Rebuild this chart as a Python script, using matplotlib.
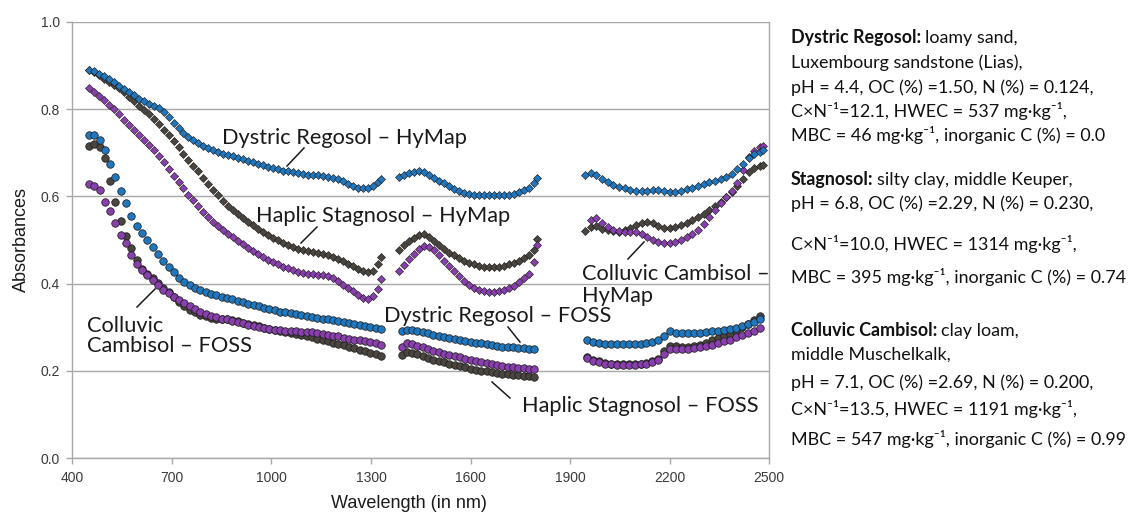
import numpy as np
import matplotlib
matplotlib.use('Agg')
import matplotlib.pyplot as plt
from matplotlib.lines import Line2D

nan = float('nan')

# ---------------- data ----------------
HYMAP_WL = [450, 465, 480, 495, 510, 525, 540, 555, 570, 585, 600, 615, 630, 645, 660, 675, 690, 705, 720, 735,
            750, 765, 780, 795, 810, 825, 840, 855, 870, 885, 900, 915, 930, 945, 960, 975, 990, 1005, 1020, 1035,
            1050, 1065, 1080, 1095, 1110, 1125, 1140, 1155, 1170, 1185, 1200, 1215, 1230, 1245, 1260, 1275, 1290,
            1305, 1320, 1330,
            1385, 1400, 1415, 1430, 1445, 1460, 1475, 1490, 1505, 1520, 1535, 1550, 1565, 1580, 1595, 1610, 1625,
            1640, 1655, 1670, 1685, 1700, 1715, 1730, 1745, 1760, 1775, 1790, 1800,
            1945, 1962, 1979, 1996, 2013, 2030, 2047, 2064, 2081, 2098, 2115, 2132, 2149, 2166, 2183, 2200, 2217,
            2234, 2251, 2268, 2285, 2302, 2319, 2336, 2353, 2370, 2387, 2404, 2421, 2438, 2455, 2472, 2480]

regosol_hymap = [0.890, 0.886, 0.881, 0.875, 0.868, 0.861, 0.853, 0.845, 0.838, 0.831, 0.824, 0.818, 0.812, 0.807,
                 0.802, 0.793, 0.781, 0.769, 0.757, 0.746, 0.737, 0.729, 0.722, 0.716, 0.711, 0.706, 0.702, 0.698,
                 0.695, 0.692, 0.688, 0.685, 0.681, 0.678, 0.675, 0.671, 0.668, 0.665, 0.662, 0.659, 0.657, 0.655,
                 0.653, 0.651, 0.650, 0.649, 0.648, 0.647, 0.645, 0.643, 0.640, 0.635, 0.629, 0.623, 0.620, 0.619,
                 0.620, 0.624, 0.632, 0.640,
                 0.645, 0.649, 0.653, 0.656, 0.658, 0.656, 0.650, 0.642, 0.636, 0.630, 0.623, 0.617, 0.612, 0.608,
                 0.605, 0.603, 0.602, 0.602, 0.602, 0.602, 0.602, 0.603, 0.604, 0.606, 0.609, 0.614, 0.620, 0.630,
                 0.641,
                 0.650, 0.654, 0.650, 0.640, 0.632, 0.626, 0.622, 0.618, 0.615, 0.612, 0.612, 0.613, 0.614, 0.614,
                 0.612, 0.611, 0.611, 0.613, 0.616, 0.620, 0.624, 0.628, 0.632, 0.636, 0.640, 0.645, 0.652, 0.662,
                 0.674, 0.688, 0.696, 0.702, 0.706]

stagnosol_hymap = [0.890, 0.884, 0.877, 0.869, 0.862, 0.855, 0.847, 0.838, 0.828, 0.818, 0.808, 0.798, 0.788, 0.777,
                   0.766, 0.753, 0.740, 0.726, 0.712, 0.698, 0.684, 0.670, 0.657, 0.643, 0.629, 0.615, 0.602, 0.590,
                   0.579, 0.569, 0.560, 0.551, 0.542, 0.534, 0.526, 0.519, 0.512, 0.505, 0.499, 0.493, 0.488, 0.484,
                   0.480, 0.477, 0.475, 0.473, 0.471, 0.468, 0.465, 0.461, 0.457, 0.452, 0.446, 0.440, 0.434, 0.429,
                   0.427, 0.430, 0.445, 0.462,
                   0.478, 0.488, 0.497, 0.505, 0.511, 0.513, 0.508, 0.498, 0.488, 0.479, 0.471, 0.465, 0.459, 0.453,
                   0.448, 0.444, 0.441, 0.439, 0.438, 0.438, 0.439, 0.441, 0.444, 0.448, 0.452, 0.458, 0.465, 0.478,
                   0.502,
                   0.521, 0.530, 0.531, 0.526, 0.522, 0.520, 0.519, 0.522, 0.528, 0.535, 0.540, 0.542, 0.539, 0.533,
                   0.528, 0.527, 0.530, 0.535, 0.539, 0.545, 0.552, 0.560, 0.569, 0.578, 0.588, 0.598, 0.610, 0.624,
                   0.640, 0.655, 0.664, 0.670, 0.672]

cambisol_hymap = [0.848, 0.840, 0.830, 0.820, 0.810, 0.800, 0.788, 0.775, 0.763, 0.752, 0.741, 0.729, 0.717, 0.705,
                  0.692, 0.678, 0.663, 0.647, 0.632, 0.618, 0.604, 0.591, 0.578, 0.565, 0.552, 0.541, 0.531, 0.522,
                  0.514, 0.506, 0.498, 0.490, 0.482, 0.475, 0.468, 0.461, 0.455, 0.449, 0.444, 0.439, 0.435, 0.431,
                  0.427, 0.424, 0.422, 0.421, 0.420, 0.419, 0.417, 0.414, 0.406, 0.397, 0.390, 0.383, 0.375, 0.367,
                  0.365, 0.372, 0.388, 0.410,
                  0.430, 0.443, 0.456, 0.469, 0.480, 0.487, 0.485, 0.476, 0.465, 0.453, 0.441, 0.429, 0.418, 0.407,
                  0.398, 0.391, 0.386, 0.383, 0.382, 0.382, 0.383, 0.385, 0.389, 0.395, 0.403, 0.412, 0.422, 0.450,
                  0.488,
                  nan, 0.546, 0.550, 0.540, 0.530, 0.523, 0.520, 0.519, 0.519, 0.519, 0.514, 0.506, 0.500, 0.496,
                  0.494, 0.494, 0.496, 0.500, 0.506, 0.514, 0.524, 0.537, 0.552, 0.568, 0.584, 0.598, 0.612, 0.630,
                  0.660, 0.690, 0.704, 0.712, 0.715]

FOSS_WL = [450, 466, 482, 498, 514, 530, 546, 562, 578, 594, 610, 626, 642, 658, 674, 690, 706, 722, 738, 754,
           770, 786, 802, 818, 834, 850, 866, 882, 898, 914, 930, 946, 962, 978, 994, 1010, 1026, 1042, 1058, 1074,
           1090, 1106, 1122, 1138, 1154, 1170, 1186, 1202, 1218, 1234, 1250, 1266, 1282, 1298, 1314, 1330,
           1392, 1408, 1424, 1440, 1456, 1472, 1488, 1504, 1520, 1536, 1552, 1568, 1584, 1600, 1616, 1632, 1648,
           1664, 1680, 1696, 1712, 1728, 1744, 1760, 1776, 1792,
           1950, 1968, 1986, 2004, 2022, 2040, 2058, 2076, 2094, 2112, 2130, 2148, 2166, 2184, 2202, 2220, 2238,
           2256, 2274, 2292, 2310, 2328, 2346, 2364, 2382, 2400, 2418, 2436, 2454, 2472]

regosol_foss = [0.740, 0.740, 0.730, 0.705, 0.674, 0.645, 0.612, 0.584, 0.556, 0.533, 0.517, 0.501, 0.485, 0.469,
                0.453, 0.438, 0.426, 0.414, 0.404, 0.396, 0.390, 0.385, 0.380, 0.376, 0.373, 0.370, 0.367, 0.364,
                0.360, 0.357, 0.354, 0.351, 0.348, 0.345, 0.342, 0.339, 0.336, 0.334, 0.332, 0.330, 0.328, 0.326,
                0.324, 0.322, 0.320, 0.318, 0.316, 0.314, 0.312, 0.310, 0.308, 0.306, 0.304, 0.301, 0.299, 0.296,
                0.291, 0.294, 0.294, 0.292, 0.289, 0.286, 0.283, 0.281, 0.278, 0.276, 0.273, 0.271, 0.269, 0.267,
                0.265, 0.263, 0.261, 0.259, 0.258, 0.256, 0.255, 0.254, 0.253, 0.252, 0.251, 0.250,
                0.271, 0.267, 0.264, 0.262, 0.261, 0.261, 0.261, 0.261, 0.261, 0.262, 0.263, 0.266, 0.272, 0.280,
                0.291, 0.288, 0.286, 0.286, 0.287, 0.288, 0.289, 0.291, 0.292, 0.294, 0.296, 0.299, 0.304, 0.308,
                0.312, 0.318]

stagnosol_foss = [0.716, 0.720, 0.712, 0.688, 0.636, 0.588, 0.544, 0.510, 0.482, 0.455, 0.434, 0.422, 0.412, 0.401,
                  0.390, 0.380, 0.369, 0.358, 0.348, 0.340, 0.334, 0.329, 0.325, 0.322, 0.320, 0.319, 0.318, 0.316,
                  0.314, 0.311, 0.308, 0.305, 0.302, 0.299, 0.296, 0.294, 0.292, 0.290, 0.287, 0.285, 0.282, 0.280,
                  0.277, 0.274, 0.271, 0.268, 0.265, 0.262, 0.259, 0.256, 0.252, 0.249, 0.246, 0.242, 0.239, 0.235,
                  0.236, 0.244, 0.242, 0.238, 0.234, 0.230, 0.226, 0.223, 0.220, 0.217, 0.214, 0.211, 0.208, 0.205,
                  0.203, 0.201, 0.199, 0.197, 0.195, 0.194, 0.192, 0.191, 0.190, 0.189, 0.188, 0.187,
                  0.232, 0.226, 0.222, 0.219, 0.217, 0.216, 0.215, 0.215, 0.216, 0.217, 0.219, 0.222, 0.228, 0.245,
                  0.258, 0.257, 0.256, 0.256, 0.257, 0.260, 0.265, 0.271, 0.276, 0.280, 0.284, 0.291, 0.300, 0.308,
                  0.316, 0.326]

cambisol_foss = [0.628, 0.624, 0.614, 0.586, 0.567, 0.540, 0.512, 0.494, 0.466, 0.446, 0.431, 0.419, 0.408, 0.397,
                 0.386, 0.378, 0.370, 0.362, 0.355, 0.349, 0.342, 0.336, 0.331, 0.327, 0.323, 0.320, 0.318, 0.315,
                 0.312, 0.309, 0.306, 0.303, 0.300, 0.298, 0.296, 0.294, 0.293, 0.292, 0.291, 0.291, 0.290, 0.290,
                 0.289, 0.287, 0.285, 0.283, 0.281, 0.279, 0.276, 0.274, 0.272, 0.270, 0.268, 0.266, 0.263, 0.260,
                 0.255, 0.263, 0.262, 0.258, 0.254, 0.250, 0.246, 0.243, 0.240, 0.237, 0.234, 0.231, 0.228, 0.225,
                 0.222, 0.220, 0.218, 0.216, 0.214, 0.212, 0.210, 0.209, 0.207, 0.206, 0.205, 0.204,
                 0.230, 0.224, 0.220, 0.217, 0.215, 0.214, 0.213, 0.213, 0.214, 0.215, 0.217, 0.220, 0.226, 0.240,
                 0.250, 0.251, 0.251, 0.251, 0.252, 0.254, 0.257, 0.260, 0.264, 0.268, 0.272, 0.277, 0.282, 0.287,
                 0.292, 0.298]

X_TICKS = [400, 700, 1000, 1300, 1600, 1900, 2200, 2500]
Y_TICKS = [0.0, 0.2, 0.4, 0.6, 0.8, 1.0]

SERIES_LABELS = [
    (["Dystric Regosol \u2013 HyMap"], 222.5, [144.0]),
    (["Haplic Stagnosol \u2013 HyMap"], 256.5, [221.5]),
    (["Colluvic", "Cambisol \u2013 FOSS"], 87.3, [331.5, 351.8]),
    (["Dystric Regosol \u2013 FOSS"], 384.0, [322.5]),
    (["Haplic Stagnosol \u2013 FOSS"], 521.7, [412.5]),
    (["Colluvic Cambisol \u2013", "HyMap"], 582.3, [280.0, 301.5]),
]
LEADERS = [((287, 166), (304, 148)), ((301, 243), (317, 227)), ((137, 307), (155, 289)),
           ((508, 327), (520, 342)), ((492, 382), (510, 398)), ((628, 259), (644, 242))]

INFO_LINES = [
    ("Dystric Regosol:", "loamy sand,", 43.5),
    ("", "Luxembourg sandstone (Lias),", 68.0),
    ("", "pH = 4.4, OC (%) =1.50, N (%) = 0.124,", 92.5),
    ("", "C\u00d7N\u207b\u00b9=12.1, HWEC = 537 mg\u00b7kg\u207b\u00b9,", 117.0),
    ("", "MBC = 46 mg\u00b7kg\u207b\u00b9, inorganic C (%) = 0.0", 141.5),
    ("Stagnosol:", "silty clay, middle Keuper,", 185.0),
    ("", "pH = 6.8, OC (%) =2.29, N (%) = 0.230,", 209.5),
    ("", "C\u00d7N\u207b\u00b9=10.0, HWEC = 1314 mg\u00b7kg\u207b\u00b9,", 250.0),
    ("", "MBC = 395 mg\u00b7kg\u207b\u00b9, inorganic C (%) = 0.74", 283.0),
    ("Colluvic Cambisol:", "clay loam,", 336.0),
    ("", "middle Muschelkalk,", 360.0),
    ("", "pH = 7.1, OC (%) =2.69, N (%) = 0.200,", 388.0),
    ("", "C\u00d7N\u207b\u00b9=13.5, HWEC = 1191 mg\u00b7kg\u207b\u00b9,", 415.0),
    ("", "MBC = 547 mg\u00b7kg\u207b\u00b9, inorganic C (%) = 0.99", 445.0),
]

# ---------------- styling ----------------
BLUE = '#1f78bf'
DARK = '#4b4540'
PURPLE = '#8a3fae'
EDGE = '#1e1e1e'
GRID = '#a8a8a8'
TXT = ['Lato', 'DejaVu Sans']
ARIAL = ['Liberation Sans', 'DejaVu Sans']

W, H = 1131, 516
fig = plt.figure(figsize=(W / 100, H / 100), dpi=100)
fig.patch.set_facecolor('white')
ax = fig.add_axes([72.3 / W, 1 - 458.3 / H, (769.3 - 72.3) / W, (458.3 - 21.7) / H])

def P(x, y):
    return (x / W, 1 - y / H)

circ = dict(linestyle='none', marker='o', markersize=5.4, markeredgecolor=EDGE, markeredgewidth=0.55)
diam = dict(linestyle='none', marker='D', markersize=3.7, markeredgecolor=EDGE, markeredgewidth=0.45)

ax.plot(FOSS_WL, stagnosol_foss, markerfacecolor=DARK, **circ, zorder=3)
ax.plot(FOSS_WL, cambisol_foss, markerfacecolor=PURPLE, **circ, zorder=3)
ax.plot(FOSS_WL, regosol_foss, markerfacecolor=BLUE, **circ, zorder=3)
ax.plot(HYMAP_WL, stagnosol_hymap, markerfacecolor=DARK, **diam, zorder=3)
ax.plot(HYMAP_WL, cambisol_hymap, markerfacecolor=PURPLE, **diam, zorder=3)
ax.plot(HYMAP_WL, regosol_hymap, markerfacecolor=BLUE, **diam, zorder=3)

ax.set_xlim(400, 2500)
ax.set_ylim(0, 1.0)
ax.set_xticks(X_TICKS)
ax.set_yticks(Y_TICKS)
ax.set_yticklabels([f"{v:.1f}" for v in Y_TICKS])
ax.grid(axis='y', color=GRID, linewidth=1.0, zorder=0)
ax.set_axisbelow(True)
for s in ax.spines.values():
    s.set_color(GRID)
    s.set_linewidth(1.0)
ax.spines['top'].set_visible(False)
ax.tick_params(axis='both', direction='out', length=4, width=1.0, color=GRID,
               labelsize=10, labelcolor='#3a3a3a')
ax.tick_params(axis='y', pad=5)
ax.tick_params(axis='x', pad=5.5)
for lab in ax.get_xticklabels() + ax.get_yticklabels():
    lab.set_fontfamily(ARIAL)

renderer = fig.canvas.get_renderer()

def fit_size(text, family, target, weight='normal'):
    t = fig.text(0, 0, text, fontsize=20, family=family, fontweight=weight)
    w = t.get_window_extent(renderer=renderer).width
    t.remove()
    return 20 * target / w

# axis labels
axis_fs = fit_size("Wavelength (in nm)", ARIAL, 155)
fig.text(*P(409, 508), "Wavelength (in nm)", fontsize=axis_fs, family=ARIAL, color='#1a1a1a',
         ha='center', va='baseline')
fig.text(*P(21, 240), "Absorbances", fontsize=axis_fs, family=ARIAL, color='#1a1a1a',
         ha='center', va='center', rotation=90)

# series labels
lab_fs = fit_size("Dystric Regosol \u2013 HyMap", TXT, 244)
for lines, x, ys in SERIES_LABELS:
    for s, y in zip(lines, ys):
        fig.text(*P(x, y), s, fontsize=lab_fs, family=TXT, color='#1a1a1a', ha='left', va='baseline')
for (x0, y0), (x1, y1) in LEADERS:
    fig.add_artist(Line2D([x0 / W, x1 / W], [1 - y0 / H, 1 - y1 / H], transform=fig.transFigure,
                          color='#1a1a1a', linewidth=1.1))

# info block
info_fs = min(fit_size("pH = 4.4, OC (%) =1.50, N (%) = 0.124,", TXT, 307),
              fit_size(INFO_LINES[8][1], TXT, 336))
for bold, rest, y in INFO_LINES:
    x = 790.7
    if bold:
        t = fig.text(*P(x, y), bold, fontsize=info_fs, family=TXT, fontweight='bold', color='#111111',
                     ha='left', va='baseline')
        bb = t.get_window_extent(renderer=renderer)
        x = bb.x1 + 4
    fig.text(*P(x, y), rest, fontsize=info_fs, family=TXT, color='#111111', ha='left', va='baseline')

fig.savefig('out.png', dpi=100, facecolor='white')
